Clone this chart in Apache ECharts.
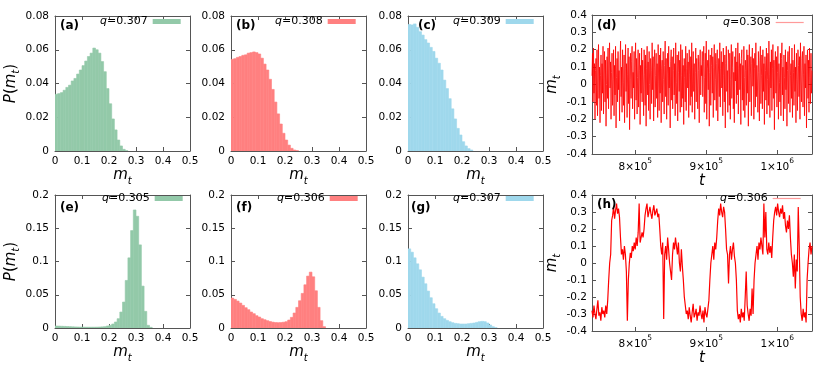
<!DOCTYPE html>
<html><head><meta charset="utf-8">
<script src="https://cdn.jsdelivr.net/npm/echarts@6/dist/echarts.min.js"></script>
<style>html,body{margin:0;padding:0;background:#fff}#c{width:822px;height:368px}</style>
</head><body><div id="c"></div>
<script>
// ---------------- data ----------------
const BIN = 0.01; // histogram bin width in m_t
const histA = [0.0336,0.034,0.0346,0.036,0.0377,0.039,0.0415,0.043,0.0456,0.048,0.0506,0.0533,0.056,0.058,0.061,0.060,0.058,0.053,0.047,0.037,0.028,0.019,0.0125,0.0065,0.003,0.001,0.0002];
const histB = [0.0543,0.0547,0.0555,0.056,0.0567,0.057,0.058,0.0583,0.0587,0.0583,0.0575,0.055,0.0515,0.048,0.0425,0.0365,0.029,0.022,0.016,0.0105,0.0065,0.0035,0.0016,0.0006,0.0002];
const histC = [0.075,0.0747,0.0753,0.0733,0.0707,0.0687,0.066,0.064,0.0614,0.059,0.055,0.052,0.048,0.042,0.037,0.031,0.025,0.019,0.0134,0.0095,0.0055,0.003,0.0014,0.0006];
const histE = [0.003,0.0028,0.0026,0.0024,0.0022,0.002,0.0018,0.0016,0.0015,0.0014,0.0013,0.0012,0.0012,0.0012,0.0012,0.0013,0.0015,0.0017,0.002,0.003,0.004,0.006,0.009,0.014,0.024,0.039,0.0715,0.1055,0.1465,0.1775,0.168,0.125,0.063,0.025,0.004,0.001];
const histF = [0.045,0.043,0.0405,0.0375,0.034,0.0305,0.0275,0.024,0.0215,0.0185,0.0165,0.014,0.0125,0.011,0.0097,0.0088,0.0082,0.008,0.0082,0.0087,0.0095,0.012,0.016,0.0225,0.031,0.041,0.052,0.065,0.078,0.084,0.077,0.056,0.031,0.011,0.002];
const histG = [0.119,0.114,0.1055,0.0965,0.0875,0.0765,0.0665,0.0555,0.0455,0.0365,0.029,0.0225,0.0175,0.014,0.0115,0.0095,0.008,0.007,0.0065,0.006,0.006,0.006,0.0065,0.007,0.0075,0.0085,0.0095,0.01,0.0095,0.0075,0.0045,0.002,0.0005];

// time series m_t, evenly sampled over [T_MIN, T_MAX]
const T_MIN = 739000, T_MAX = 1049000;
const mtD = [
0.05,0.18,-0.1,0.21,-0.05,0.12,-0.2,0.08,0.15,-0.12,0.2,-0.18,0.02,0.23,-0.08,0.1,-0.22,0.05,0.17,-0.15,
0.12,-0.05,0.22,-0.17,0.06,0.19,-0.1,0.14,-0.24,0.0,0.16,-0.08,0.21,-0.14,0.09,0.24,-0.02,0.13,-0.2,0.07,
0.18,-0.12,0.03,0.2,-0.18,0.11,-0.06,0.22,-0.25,0.04,0.15,-0.1,0.19,-0.03,0.08,-0.21,0.14,0.25,-0.07,0.1,
-0.16,0.2,0.01,-0.12,0.17,-0.22,0.09,0.23,-0.04,0.12,-0.19,0.06,0.21,-0.11,0.16,-0.26,0.03,0.18,-0.08,0.13,
0.22,-0.14,0.07,-0.02,0.19,-0.2,0.1,0.24,-0.09,0.15,-0.17,0.04,0.2,-0.13,0.08,0.18,-0.23,0.11,-0.05,0.21,
-0.1,0.14,0.02,-0.18,0.2,0.06,-0.12,0.17,-0.24,0.09,0.22,-0.06,0.13,-0.15,0.19,0.0,-0.2,0.15,0.08,-0.11,
0.24,-0.03,0.16,-0.21,0.1,0.2,-0.13,0.05,0.18,-0.08,0.12,-0.19,0.23,0.02,-0.15,0.17,-0.05,0.21,-0.22,0.09,
0.14,-0.1,0.19,0.03,-0.17,0.11,0.25,-0.07,0.15,-0.2,0.06,0.18,-0.12,0.22,-0.02,0.1,-0.25,0.13,0.2,-0.09,
0.16,-0.14,0.08,0.21,-0.06,0.12,-0.18,0.24,0.01,-0.11,0.17,-0.21,0.07,0.19,-0.04,0.14,-0.16,0.23,0.05,-0.13,
0.2,-0.08,0.11,-0.23,0.15,0.04,-0.1,0.22,-0.15,0.09,0.18,-0.02,0.13,-0.19,0.2,0.06,-0.12,0.16,-0.07,0.24,
-0.16,0.1,0.19,-0.04,0.12,-0.2,0.07,0.21,-0.1,0.15,0.02,-0.14,0.17,0.08,-0.22,0.13,0.2,-0.06,0.11,0.05,
0.19,-0.07,0.13,0.22,-0.16,0.04,0.18,-0.11,0.25,-0.2,0.09,0.14,-0.03,0.2,-0.24,0.07,0.17,-0.12,0.11,0.21,
-0.05,0.16,-0.19,0.1,0.23,-0.09,0.03,0.18,-0.15,0.12,0.2,-0.21,0.06,0.15,-0.07,0.24,-0.13,0.09,0.19,-0.02,
0.13,-0.18,0.21,0.05,-0.1,0.17,-0.25,0.12,0.22,-0.04,0.08,-0.16,0.2,0.14,-0.12,0.18,-0.2,0.03,0.23,-0.08,
0.1,0.19,-0.14,0.07,-0.22,0.16,0.02,0.21,-0.11,0.13,-0.06,0.24,-0.17,0.09,0.18,-0.03,0.12,-0.23,0.15,0.2,
-0.09,0.11,-0.15,0.22,0.04,-0.19,0.14,0.08,-0.12,0.2,-0.05,0.17,-0.24,0.1,0.23,-0.1,0.06,0.16,-0.18,0.12,
0.21,-0.01,0.15,-0.2,0.09,0.18,-0.13,0.24,-0.07,0.11,0.02,-0.16,0.19,0.07,-0.21,0.14,0.22,-0.11,0.05,0.17,
-0.14,0.2,-0.04,0.12,-0.23,0.16,0.08,-0.09,0.21,-0.17,0.03,0.18,-0.12,0.25,0.06,-0.19,0.13,-0.02,0.2,-0.15,
0.09,0.23,-0.08,0.14,-0.26,0.11,0.19,-0.05,0.16,-0.13,0.07,0.22,-0.2,0.12,0.01,-0.1,0.18,-0.18,0.15,0.24,
-0.06,0.1,-0.21,0.17,0.04,-0.14,0.2,-0.03,0.13,-0.24,0.08,0.19,-0.11,0.16,0.22,-0.16,0.05,0.12,-0.08,0.21,
-0.19,0.14,0.07,-0.12,0.23,-0.04,0.1,-0.22,0.18,0.03,-0.15,0.2,0.11,-0.07,0.16,-0.2,0.24,0.02,-0.1,0.15,
0.19,-0.13,0.06,0.22,-0.18,0.12,-0.02,0.17,-0.25,0.09,0.2,-0.08,0.14,-0.16,0.21,0.04,-0.11,0.18,-0.05,0.08];
const mtH = [
-0.28,-0.32,-0.25,-0.3,-0.33,-0.27,-0.22,-0.31,-0.29,-0.34,-0.26,-0.3,-0.28,-0.32,-0.25,-0.3,
-0.22,-0.1,0.0,0.05,
0.25,0.28,0.33,0.26,0.31,0.35,0.29,0.32,0.27,
0.15,0.05,
0.08,0.02,0.1,0.05,-0.05,-0.34,-0.1,0.0,0.06,0.03,0.1,0.07,
0.12,0.08,0.15,0.1,0.18,
0.35,0.12,
0.12,0.18,0.15,0.2,
0.28,0.32,0.35,0.27,0.3,0.33,0.29,0.26,0.31,0.34,0.28,0.3,0.32,0.27,0.29,
0.2,0.1,0.05,0.12,
-0.33,
0.05,0.1,0.02,0.15,0.08,0.0,-0.05,-0.1,0.05,0.12,0.08,0.15,0.1,0.05,0.12,0.0,-0.05,0.08,-0.02,-0.1,-0.2,
-0.25,-0.3,
-0.28,-0.33,-0.26,-0.31,-0.35,-0.29,-0.24,-0.32,-0.3,-0.27,-0.34,-0.29,-0.31,-0.25,-0.3,-0.33,-0.28,-0.35,-0.26,-0.3,-0.32,-0.27,-0.22,
-0.1,0.0,0.05,0.1,0.02,0.12,0.08,0.15,
0.25,0.32,0.28,0.35,0.3,0.27,0.33,0.3,
0.2,0.08,0.05,-0.12,
0.05,0.1,0.02,0.08,0.12,0.04,0.0,-0.1,
-0.28,-0.33,-0.3,-0.35,-0.27,-0.32,-0.29,-0.34,
-0.2,-0.05,-0.25,
-0.3,-0.34,-0.27,-0.31,-0.15,-0.3,
-0.1,0.0,0.05,0.1,0.02,0.12,0.08,0.15,0.1,0.05,
0.35,0.15,0.3,
0.08,0.05,0.12,0.06,0.1,0.03,0.15,
0.25,0.3,0.33,0.28,0.35,0.3,0.27,0.32,0.29,0.34,0.26,0.3,0.22,0.18,0.25,0.2,0.28,0.15,
0.05,0.0,-0.08,0.05,-0.15,0.02,-0.05,
0.33,0.1,
-0.2,-0.3,-0.34,-0.27,-0.32,-0.29,-0.35,
-0.1,0.0,0.08,0.12,0.05,0.1];

const tTicks = [800000, 900000, 1000000];
const qValues = {a:'0.307', b:'0.308', c:'0.309', d:'0.308', e:'0.305', f:'0.306', g:'0.307', h:'0.306'};

// ---------------- layout / style ----------------
const FONT = 'DejaVu Sans';
const GREEN = '#93c9a9', RED = '#ff8080', BLUE = '#9fd8ec', LINE_RED = '#ff0000';
const AX = '#555';

const panels = [
  {id:'a', type:'hist', data:histA, color:GREEN, ymax:0.08, yint:0.02, g:[55,16,135,135], lg:[100,16], lb:[60,20], yname:true},
  {id:'b', type:'hist', data:histB, color:RED,   ymax:0.08, yint:0.02, g:[231,16,135,135], lg:[275,16], lb:[236,20]},
  {id:'c', type:'hist', data:histC, color:BLUE,  ymax:0.08, yint:0.02, g:[408,16,135,135], lg:[453,16], lb:[418,20]},
  {id:'d', type:'ts',   data:mtD,  lw:0.8, g:[592,15,220,139], lg:[723,17], lb:[597,20]},
  {id:'e', type:'hist', data:histE, color:GREEN, ymax:0.2, yint:0.05, g:[55,195,135,133], lg:[102,193], lb:[60,202], yname:true},
  {id:'f', type:'hist', data:histF, color:RED,   ymax:0.2, yint:0.05, g:[231,195,135,133], lg:[277,193], lb:[236,202]},
  {id:'g', type:'hist', data:histG, color:BLUE,  ymax:0.2, yint:0.05, g:[408,195,135,133], lg:[453,193], lb:[411,202]},
  {id:'h', type:'ts',   data:mtH,  lw:1.2, g:[592,195,220,136], lg:[720,193], lb:[597,199]}
];

const numFmt = v => String(+(+v).toFixed(3));
const richName = {
  i:{fontFamily:FONT, fontStyle:'italic', fontSize:15, lineHeight:16, verticalAlign:'top', color:'#000'},
  n:{fontFamily:FONT, fontSize:15, lineHeight:16, verticalAlign:'top', color:'#000'},
  s:{fontFamily:FONT, fontStyle:'italic', fontSize:10, lineHeight:10, padding:[8,0,0,0], verticalAlign:'top', color:'#000'}
};
const richTick = {
  m:{fontFamily:FONT, fontSize:10.5, lineHeight:16, verticalAlign:'bottom', color:'#000'},
  p:{fontFamily:FONT, fontSize:7.5, lineHeight:8, verticalAlign:'top', color:'#000'}
};
const sciFmt = v => {
  const e = Math.floor(Math.log10(v) + 1e-9);
  const m = Math.round(v / Math.pow(10, e));
  return '{m|' + m + '×10}{p|' + e + '}';
};

const option = {
  animation:false,
  backgroundColor:'#fff',
  textStyle:{fontFamily:FONT},
  grid:[], xAxis:[], yAxis:[], series:[], legend:[], title:[]
};

panels.forEach((p, k) => {
  const isTS = p.type === 'ts';
  option.grid.push({left:p.g[0], top:p.g[1], width:p.g[2], height:p.g[3], containLabel:false, outerBoundsMode:'none'});
  const line = {show:true, onZero:false, lineStyle:{color:AX, width:1}};
  const tick = {show:true, inside:true, length:4, lineStyle:{color:AX, width:1}};
  let xBase, yBase;
  if (isTS) {
    xBase = {type:'value', gridIndex:k, min:T_MIN, max:T_MAX, axisLine:line, splitLine:{show:false},
      axisTick:Object.assign({customValues:tTicks}, tick)};
    yBase = {type:'value', gridIndex:k, min:-0.4, max:0.4, interval:0.1, axisLine:line, splitLine:{show:false}, axisTick:tick};
  } else {
    xBase = {type:'value', gridIndex:k, min:0, max:0.5, interval:0.1, axisLine:line, splitLine:{show:false}, axisTick:tick};
    yBase = {type:'value', gridIndex:k, min:0, max:p.ymax, interval:p.yint, axisLine:line, splitLine:{show:false}, axisTick:tick};
  }
  const xb = Object.assign({}, xBase, {position:'bottom', nameLocation:'middle', nameTextStyle:{rich:richName}});
  if (isTS) {
    xb.axisLabel = {customValues:tTicks, margin:3, formatter:sciFmt, rich:richTick};
    xb.name = '{i|t}';
    xb.nameGap = 20;
  } else {
    xb.axisLabel = {margin:5, fontSize:10.5, color:'#000', fontFamily:FONT, formatter:numFmt};
    xb.name = '{i|m}{s|t}';
    xb.nameGap = 17;
  }
  const xt = Object.assign({}, xBase, {position:'top', axisLabel:{show:false}});
  if (isTS) xt.axisLabel = {show:false, customValues:tTicks};
  option.xAxis.push(xb, xt);
  const yl = Object.assign({}, yBase, {position:'left',
    axisLabel:{margin:isTS ? 5 : 6, fontSize:10.5, color:'#000', fontFamily:FONT, formatter:numFmt}});
  if (isTS) {
    yl.name = '{i|m}{s|t}'; yl.nameLocation = 'middle'; yl.nameRotate = 90; yl.nameGap = 27;
    yl.nameTextStyle = {rich:richName};
  } else if (p.yname) {
    yl.name = '{i|P}{n|(}{i|m}{s|t}{n|)}'; yl.nameLocation = 'middle'; yl.nameRotate = 90; yl.nameGap = 31;
    yl.nameTextStyle = {rich:richName};
  }
  const yr = Object.assign({}, yBase, {position:'right', axisLabel:{show:false}});
  option.yAxis.push(yl, yr);

  const xi = 2 * k, yi = 2 * k;
  const legendText = {rich:{i:{fontFamily:FONT, fontStyle:'italic', fontSize:11, lineHeight:14, color:'#000'},
                            n:{fontFamily:FONT, fontSize:11, lineHeight:14, color:'#000'}}};
  if (isTS) {
    const dt = (T_MAX - T_MIN) / (p.data.length - 1);
    option.series.push({
      name:p.id, type:'line', xAxisIndex:xi, yAxisIndex:yi, showSymbol:false, symbol:'none',
      clip:true, lineStyle:{color:LINE_RED, width:p.lw}, itemStyle:{color:LINE_RED},
      data:p.data.map((v, i) => [T_MIN + i * dt, v])
    });
    option.legend.push({
      left:p.lg[0], top:p.lg[1], padding:0, align:'right', selectedMode:false,
      itemWidth:28, itemHeight:1.2,
      data:[{name:p.id, icon:'rect', itemStyle:{color:'#ff9a9a'}}],
      formatter:n => '{i|q}{n|=' + qValues[n] + '}',
      textStyle:legendText
    });
  } else {
    const col = p.color;
    option.series.push({
      name:p.id, type:'custom', xAxisIndex:xi, yAxisIndex:yi, clip:true,
      itemStyle:{color:col},
      encode:{x:[0, 1], y:2},
      data:p.data.map((v, i) => [i * BIN, (i + 1) * BIN, v]),
      renderItem:(params, api) => {
        const a = api.coord([api.value(0), api.value(2)]);
        const b = api.coord([api.value(1), 0]);
        return {type:'rect', shape:{x:a[0], y:a[1], width:b[0] - a[0], height:b[1] - a[1]},
          style:{fill:col, stroke:col, lineWidth:0.6}};
      }
    });
    option.legend.push({
      left:p.lg[0], top:p.lg[1], padding:0, align:'right', selectedMode:false,
      itemWidth:28, itemHeight:5,
      data:[{name:p.id, icon:'rect', itemStyle:{color:col}}],
      formatter:n => '{i|q}{n|=' + qValues[n] + '}',
      textStyle:legendText
    });
  }
  option.title.push({text:'(' + p.id + ')', left:p.lb[0], top:p.lb[1], padding:0,
    textStyle:{fontFamily:FONT, fontWeight:'bold', fontSize:12, color:'#000'}});
});

const chart = echarts.init(document.getElementById('c'), null, {renderer:'canvas'});
chart.setOption(option);
</script>
</body></html>
